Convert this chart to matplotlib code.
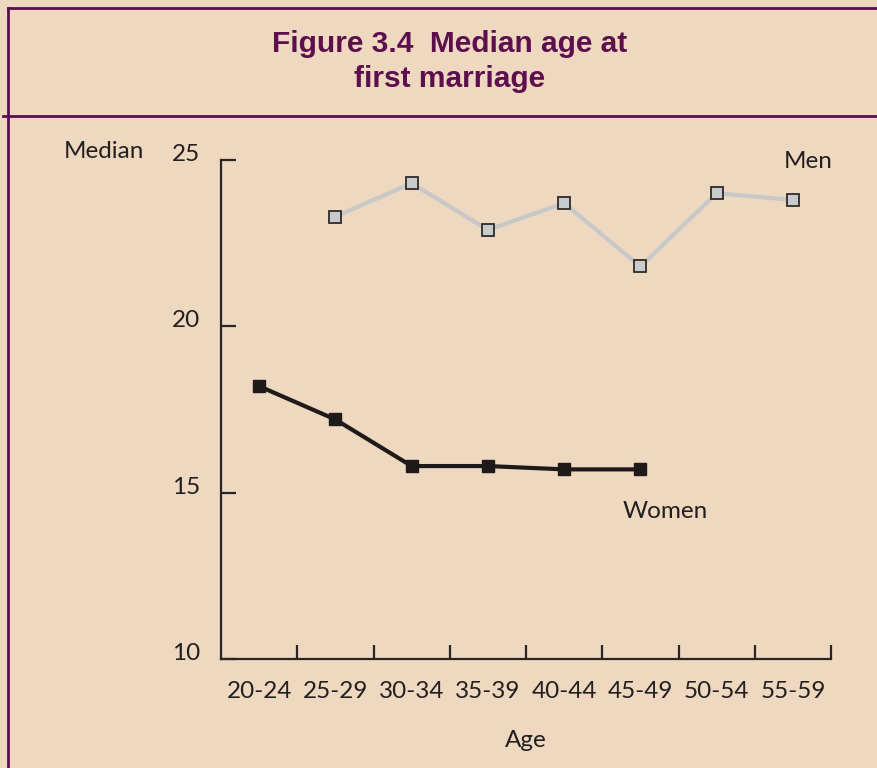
import matplotlib.pyplot as plt
import matplotlib.transforms as mtransforms
import numpy as np
from matplotlib.lines import Line2D

# data
age_groups = ["20-24", "25-29", "30-34", "35-39", "40-44", "45-49", "50-54", "55-59"]
men = [np.nan, 23.3, 24.3, 22.9, 23.7, 21.8, 24.0, 23.8]
women = [18.2, 17.2, 15.8, 15.8, 15.7, 15.7, np.nan, np.nan]
y_ticks = [10, 15, 20, 25]

BG = "#EED8BF"
FRAME = "#5C0F4C"
AXIS = "#2B2424"
TXT = "#231F1F"
FONT = ["Lato", "DejaVu Sans"]
TITLE_FONT = ["Liberation Sans", "DejaVu Sans"]
FS = 17.5

fig = plt.figure(figsize=(8.77, 7.68), dpi=100)
fig.patch.set_facecolor(BG)

# frame lines round the title box
fig.add_artist(Line2D([8/877, 1], [1 - 8/768, 1 - 8/768], color=FRAME, lw=2))
fig.add_artist(Line2D([8/877, 8/877], [0, 1 - 8/768], color=FRAME, lw=2))
fig.add_artist(Line2D([3/877, 1], [1 - 116/768, 1 - 116/768], color=FRAME, lw=2))

fig.text(0.513, 1 - 44/768, "Figure 3.4  Median age at", ha="center", va="center",
         fontsize=21.5, fontweight="bold", color=FRAME, family=TITLE_FONT)
fig.text(0.513, 1 - 79/768, "first marriage", ha="center", va="center",
         fontsize=21.5, fontweight="bold", color=FRAME, family=TITLE_FONT)

ax = fig.add_axes([221/877, 1 - 659/768, (831 - 221)/877, (659 - 160)/768])
ax.set_facecolor(BG)

x = np.arange(len(age_groups)) + 0.5
ax.plot(x, men, color="#C8C8C8", lw=3, marker="s", ms=9,
        markerfacecolor="#C9CACC", markeredgecolor="#2E2A2A", markeredgewidth=1.3, zorder=3)
ax.plot(x, women, color="#1E1A1A", lw=3, marker="s", ms=9,
        markerfacecolor="#1E1A1A", markeredgecolor="#1E1A1A", zorder=3)

ax.set_xlim(0, len(age_groups))
ax.set_ylim(10, 25)

for s in ["top", "right"]:
    ax.spines[s].set_visible(False)
for s in ["left", "bottom"]:
    ax.spines[s].set_color(AXIS)
    ax.spines[s].set_linewidth(1.6)

ax.set_xticks(np.arange(1, len(age_groups) + 1))
ax.set_xticklabels([])
ax.set_xticks(x, minor=True)
ax.set_xticklabels(age_groups, minor=True, fontsize=FS, family=FONT, color=TXT)
ax.tick_params(axis="x", which="major", direction="in", length=10, width=1.6, color=AXIS)
ax.tick_params(axis="x", which="minor", length=0, pad=16)

ax.set_yticks(y_ticks)
ax.set_yticklabels([str(v) for v in y_ticks], fontsize=FS, family=FONT, color=TXT)
ax.tick_params(axis="y", direction="in", length=11, width=1.6, color=AXIS, pad=15)
# y labels sit a little above their ticks in the original
shift = mtransforms.ScaledTranslation(0, 5.5/72, fig.dpi_scale_trans)
for lab in ax.get_yticklabels():
    lab.set_transform(lab.get_transform() + shift)

ax.set_xlabel("Age", fontsize=FS, family=FONT, color=TXT, labelpad=20)

fig.text(104/877, 1 - 152/768, "Median", ha="center", va="center",
         fontsize=FS, family=FONT, color=TXT)
fig.text(808/877, 1 - 161/768, "Men", ha="center", va="center",
         fontsize=FS, family=FONT, color=TXT)
fig.text(665/877, 1 - 512/768, "Women", ha="center", va="center",
         fontsize=FS, family=FONT, color=TXT)

fig.savefig("out.png", dpi=100, facecolor=BG)
